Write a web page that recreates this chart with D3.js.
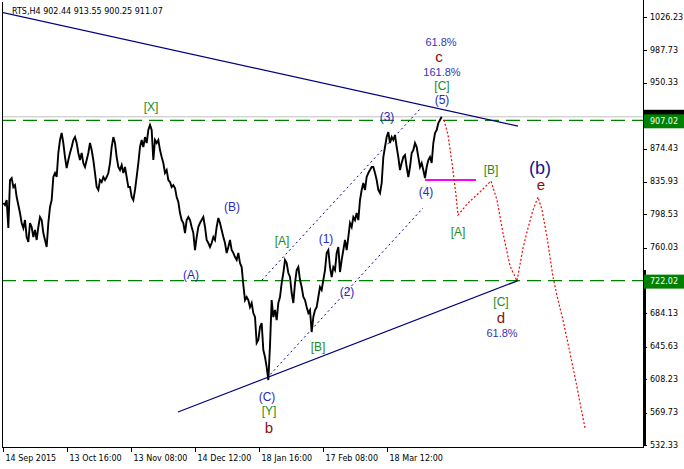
<!DOCTYPE html>
<html><head><meta charset="utf-8">
<script src="https://cdn.jsdelivr.net/npm/d3@7/dist/d3.min.js"></script>
<style>body{margin:0;background:#fff}svg{display:block}</style>
</head><body><svg id="c" width="684" height="469"></svg>
<script>
// ---------- data ----------
const header = "RTS,H4  902.44 913.55 900.25 911.07";
const closes = [
811.6,809.3,815.0,782.7,838.1,840.4,830.0,832.3,818.5,809.3,800.0,788.5,782.7,791.9,772.3,766.6,788.5,783.9,772.3,780.4,
768.9,783.9,795.4,791.9,776.9,768.9,760.8,788.5,806.9,815.0,841.6,846.2,841.6,869.3,884.3,892.4,880.8,864.6,851.9,861.2,
869.3,876.2,884.3,887.7,880.8,869.3,861.2,869.3,857.7,853.1,861.2,869.3,880.8,872.7,861.2,846.2,830.0,826.6,838.1,835.8,
841.6,838.1,841.6,846.2,857.7,876.2,887.7,880.8,864.6,853.1,849.6,855.4,846.2,853.1,841.6,830.0,830.0,818.5,815.0,826.6,
841.6,857.7,876.2,884.3,876.2,887.7,880.8,895.8,901.6,895.8,861.2,884.3,880.8,884.3,872.7,864.6,857.7,846.2,849.6,838.1,
835.8,830.0,832.3,828.9,818.5,812.7,800.0,791.9,788.5,776.9,791.9,795.4,791.9,783.9,776.9,757.3,772.3,783.9,788.5,791.9,
795.4,783.9,768.9,765.4,760.8,765.4,772.3,768.9,783.9,794.3,788.5,780.4,772.3,765.4,753.9,760.8,768.9,757.3,753.9,749.2,
745.8,753.9,742.3,737.7,717.0,699.6,703.1,699.6,691.5,696.2,684.6,680.0,650.0,653.5,668.5,673.1,641.9,633.9,622.3,607.3,
647.0,699.6,680.0,688.1,676.5,696.2,703.1,719.2,730.8,745.8,742.3,730.8,726.2,707.7,696.2,719.2,734.2,737.7,722.7,714.6,
703.1,699.6,691.5,684.6,688.1,662.7,680.0,688.1,691.5,703.1,714.6,711.2,722.7,734.2,753.9,757.3,737.7,726.2,737.7,734.2,
753.9,760.8,731.9,745.8,757.3,768.9,757.3,772.3,788.5,783.9,795.4,791.9,800.0,791.9,815.0,826.6,834.6,826.6,841.6,846.2,
849.6,853.1,853.1,846.2,838.1,826.6,823.1,834.6,864.6,876.2,887.7,893.5,880.8,887.7,884.3,890.1,876.2,864.6,849.6,857.7,
864.6,866.9,853.1,841.6,853.1,869.3,872.7,880.8,876.2,864.6,853.1,857.7,849.6,840.4,853.1,861.2,864.6,857.7,880.8,892.4,
895.8,903.9,907.4,911.07
];
const firstBar = 1/3, barStep = 5/3;   // bar position of sample i = firstBar + i*barStep

const timeTickBars = [0, 64, 128, 192, 256, 320, 384];
const timeTickLabels = ["14 Sep 2015","13 Oct 16:00","13 Nov 08:00","14 Dec 12:00","18 Jan 16:00","17 Feb 08:00","18 Mar 12:00"];
const priceTicks = [1026.23, 987.73, 950.33, 874.43, 835.93, 798.53, 760.03, 684.13, 645.63, 608.23, 569.73, 532.33];
const levels = [907.02, 722.02];
const lastPrice = 911.07;

// trend lines [bar, price]
const upperTrend = [[-3, 1032.0], [515, 900.4]];
const lowerTrend = [[175, 570.4], [515, 722.0]];
const channelUpper = [[259, 722.7], [418, 921.2]];
const channelLower = [[264, 609.6], [420, 805.8]];
const wave4Line = [[422, 838.1], [473, 838.1]];
const forecast = [[441,907.4],[445,890.1],[449,857.7],[453,820.8],[455,797.7],[465,811.6],[477,824.3],[488,837.0],
  [494,815.0],[500,777.0],[507,738.9],[514,721.6],[520,759.6],[525,782.7],[530,803.5],[535,818.5],[539,803.5],
  [544,772.3],[550,726.2],[555,699.6],[560,676.5],[567,638.5],[574,599.3],[578,575.0],[582,552.0]];

// labels: text, bar, price, kind
const labels = [
  ["[X]",148,922.4,"g"],["(B)",229,806.9,"u"],["[A]",279,767.7,"g"],["(A)",188,728.5,"u"],
  ["(1)",323,770.0,"u"],["(2)",344,708.9,"u"],["[B]",315,645.4,"g"],
  ["(C)",264,587.7,"u"],["[Y]",266,571.6,"g"],["b",266,552.0,"r"],
  ["(3)",384,910.8,"u"],["(4)",423,824.3,"u"],["(5)",439,930.4,"u"],["[C]",439,946.6,"g"],
  ["161.8%",439,962.8,"p"],["c",436,980.1,"r"],["61.8%",438,997.4,"p"],
  ["[B]",488,849.7,"g"],["[A]",455,778.1,"g"],["(b)",537,852.0,"big"],["e",538,832.4,"r"],
  ["[C]",498,697.3,"g"],["d",498,678.9,"r"],["61.8%",499,661.6,"p"]
];

// ---------- drawing ----------
const svg = d3.select("#c");
const L = 2, R = 643, T = 2, B = 447;
const x = d3.scaleLinear().domain([0, 640]).range([3, 643]);
const y = d3.scaleLinear().domain([532.33, 1026.23]).range([445, 17]);
const axisFont = "DejaVu Sans, Verdana, sans-serif";
const labFont = "Liberation Sans, Arial, sans-serif";

svg.append("defs").append("clipPath").attr("id","plot")
  .append("rect").attr("x",L).attr("y",T).attr("width",R-L).attr("height",B-T);
const g = svg.append("g").attr("clip-path","url(#plot)");

// price levels
g.append("line").attr("x1",L).attr("x2",R).attr("y1",y(lastPrice)).attr("y2",y(lastPrice))
  .attr("stroke","#c0c0c0").attr("stroke-width",1);
levels.forEach(v => g.append("line").attr("x1",L).attr("x2",R).attr("y1",y(v)).attr("y2",y(v))
  .attr("stroke","#008000").attr("stroke-width",1.3).attr("stroke-dasharray","14,7"));

const ln = d3.line().x(d => x(d[0])).y(d => y(d[1]));
function seg(data, color, w, dash){
  const p = g.append("path").attr("d", ln(data)).attr("fill","none").attr("stroke",color).attr("stroke-width",w);
  if (dash) p.attr("stroke-dasharray", dash);
}
seg(upperTrend, "#000080", 1.2);
seg(lowerTrend, "#000080", 1.2);
seg(channelUpper, "#000080", 1, "2,3");
seg(channelLower, "#000080", 1, "2,3");

// price series
const priceLine = d3.line().x((d,i) => x(firstBar + i*barStep)).y(d => y(d));
g.append("path").attr("d", priceLine(closes)).attr("fill","none").attr("stroke","#000").attr("stroke-width",1.9)
  .attr("stroke-linejoin","miter");

seg(wave4Line, "#ff00ff", 2);
seg(forecast, "#ff0000", 1.2, "2,2");

// labels
const styles = {
  u:{fill:"#2a2abf", size:12}, g:{fill:"#228b22", size:12}, r:{fill:"#8b1010", size:15},
  p:{fill:"#3535b0", size:11}, big:{fill:"#14148c", size:18}
};
labels.forEach(([t,b,p,k]) => {
  const s = styles[k];
  svg.append("text").attr("x",x(b)).attr("y",y(p)).attr("text-anchor","middle").attr("dominant-baseline","central")
    .attr("font-family",labFont).attr("font-size",s.size).attr("fill",s.fill).text(t);
});

// frame
svg.append("line").attr("x1",L+0.5).attr("x2",L+0.5).attr("y1",T).attr("y2",B).attr("stroke","#000");
svg.append("line").attr("x1",L).attr("x2",R).attr("y1",B+0.5).attr("y2",B+0.5).attr("stroke","#000");
svg.append("line").attr("x1",R+0.5).attr("x2",R+0.5).attr("y1",0).attr("y2",B+1).attr("stroke","#000");

// right price axis
priceTicks.forEach(v => {
  svg.append("line").attr("x1",R).attr("x2",R+4).attr("y1",Math.round(y(v))+0.5).attr("y2",Math.round(y(v))+0.5).attr("stroke","#000");
  svg.append("text").attr("x",650).attr("y",y(v)).attr("dominant-baseline","central")
    .attr("font-family",axisFont).attr("font-size",8).attr("fill","#000").text(v.toFixed(2));
});
svg.append("rect").attr("x",R).attr("width",3).attr("y",y(734.3)).attr("height",y(532.33)-y(734.3)).attr("fill","#000");
svg.append("rect").attr("x",R+1).attr("width",41).attr("y",y(lastPrice)-7).attr("height",14).attr("fill","#000");
levels.forEach(v => {
  svg.append("rect").attr("x",R+1).attr("width",41).attr("y",y(v)-6).attr("height",14).attr("fill","#008000");
  svg.append("text").attr("x",650).attr("y",y(v)+1).attr("dominant-baseline","central")
    .attr("font-family",axisFont).attr("font-size",8).attr("fill","#fff").text(v.toFixed(2));
});

// bottom time axis
timeTickBars.forEach((b,i) => {
  const xx = Math.round(x(b)) + 0.5;
  svg.append("line").attr("x1",xx).attr("x2",xx).attr("y1",B).attr("y2",B+5).attr("stroke","#000");
  svg.append("text").attr("x",xx+2).attr("y",461).attr("font-family",axisFont).attr("font-size",8)
    .attr("fill","#000").text(timeTickLabels[i]);
});

// header
svg.append("text").attr("x",12).attr("y",14).attr("font-family",axisFont).attr("font-size",8).attr("fill","#000").text(header);
</script></body></html>
